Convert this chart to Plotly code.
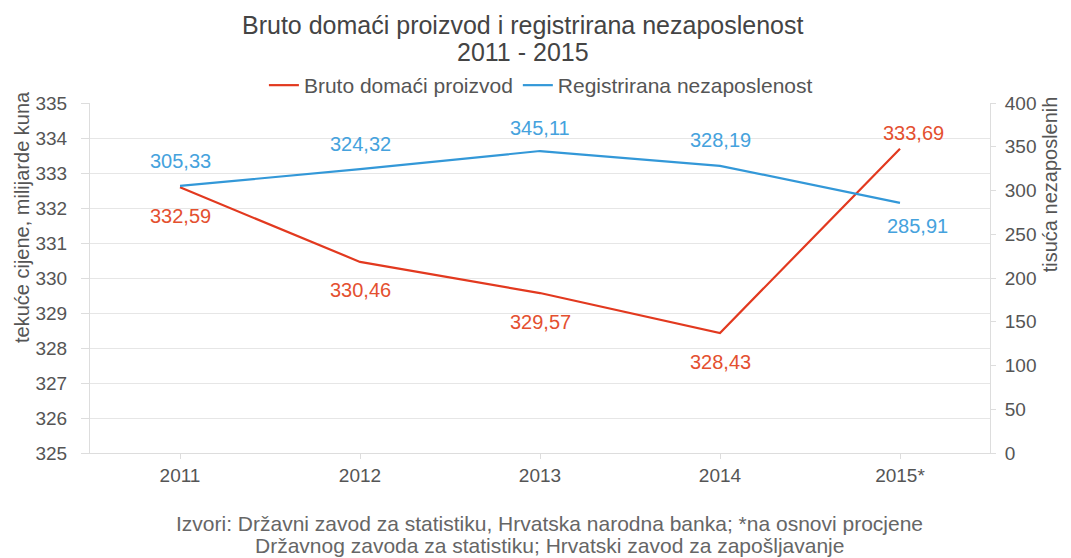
import plotly.graph_objects as go

years = ["2011", "2012", "2013", "2014", "2015*"]
gdp = [332.59, 330.46, 329.57, 328.43, 333.69]
unemp = [305.33, 324.32, 345.11, 328.19, 285.91]
gdp_labels = ["332,59", "330,46", "329,57", "328,43", "333,69"]
unemp_labels = ["305,33", "324,32", "345,11", "328,19", "285,91"]

RED = "#e2391f"
BLUE = "#3398d8"
RED_T = "#e4502f"
BLUE_T = "#45a2dd"
FONT = "Liberation Sans"
TXT = "#555555"

fig = go.Figure()
fig.add_trace(go.Scatter(x=years, y=gdp, mode="lines", name="Bruto domaći proizvod",
                         line=dict(color=RED, width=2.2), yaxis="y"))
fig.add_trace(go.Scatter(x=years, y=unemp, mode="lines", name="Registrirana nezaposlenost",
                         line=dict(color=BLUE, width=2.2), yaxis="y2"))

ann = []
gdp_shift = [(0, -29), (0, -28), (0, -29), (0, -29), (13, 16)]
unemp_shift = [(0, 25), (0, 25), (0, 23), (0, 26), (17, -23)]
for i, (v, t) in enumerate(zip(gdp, gdp_labels)):
    ann.append(dict(x=i, y=v, xref="x", yref="y", text=t, showarrow=False,
                    xshift=gdp_shift[i][0], yshift=gdp_shift[i][1],
                    font=dict(color=RED_T, size=20, family=FONT)))
for i, (v, t) in enumerate(zip(unemp, unemp_labels)):
    ann.append(dict(x=i, y=v, xref="x", yref="y2", text=t, showarrow=False,
                    xshift=unemp_shift[i][0], yshift=unemp_shift[i][1],
                    font=dict(color=BLUE_T, size=20, family=FONT)))

# title (two lines as separate texts for tight spacing)
ann.append(dict(x=0.481, y=1.223, xref="paper", yref="paper", yanchor="middle",
                text="Bruto domaći proizvod i registrirana nezaposlenost", showarrow=False,
                font=dict(color="#444", size=25, family=FONT)))
ann.append(dict(x=0.481, y=1.146, xref="paper", yref="paper", yanchor="middle",
                text="2011 - 2015", showarrow=False,
                font=dict(color="#444", size=25, family=FONT)))
# axis titles
ann.append(dict(x=-0.0755, y=1.04, xref="paper", yref="paper", xanchor="center", yanchor="top",
                text="tekuće cijene, milijarde kuna", textangle=-90, showarrow=False,
                font=dict(color=TXT, size=20, family=FONT)))
ann.append(dict(x=1.0667, y=1.025, xref="paper", yref="paper", xanchor="center", yanchor="top",
                text="tisuća nezaposlenih", textangle=-90, showarrow=False,
                font=dict(color=TXT, size=20, family=FONT)))
# source note
ann.append(dict(x=0.511, y=-0.2, xref="paper", yref="paper", yanchor="middle",
                text="Izvori: Državni zavod za statistiku, Hrvatska narodna banka; *na osnovi procjene",
                showarrow=False, font=dict(color="#666", size=21, family=FONT)))
ann.append(dict(x=0.511, y=-0.263, xref="paper", yref="paper", yanchor="middle",
                text="Državnog zavoda za statistiku; Hrvatski zavod za zapošljavanje",
                showarrow=False, font=dict(color="#666", size=21, family=FONT)))

fig.update_layout(
    width=1071, height=558,
    margin=dict(l=90, r=81, t=103, b=105, autoexpand=False),
    paper_bgcolor="white", plot_bgcolor="white",
    font=dict(family=FONT, color=TXT),
    legend=dict(orientation="h", x=0.501, xanchor="center", y=1.05, yanchor="middle",
                font=dict(size=21, color=TXT, family=FONT),
                bgcolor="rgba(0,0,0,0)", tracegroupgap=0),
    showlegend=True,
    xaxis=dict(type="category", showgrid=False, showline=True, linecolor="#dddddd",
               ticks="outside", ticklen=5, tickcolor="#dddddd",
               tickfont=dict(size=19, color=TXT), range=[-0.5, 4.5]),
    yaxis=dict(range=[325, 335], dtick=1, showgrid=True, gridcolor="#e6e6e6",
               showline=True, linecolor="#dddddd", ticks="outside", ticklen=8, tickcolor="#dddddd",
               tickfont=dict(size=19, color=TXT), zeroline=False, ticklabelstandoff=10),
    yaxis2=dict(range=[0, 400], dtick=50, overlaying="y", side="right", showgrid=False,
                showline=True, linecolor="#dddddd", ticks="outside", ticklen=5, tickcolor="#dddddd",
                tickfont=dict(size=19, color=TXT), zeroline=False, ticklabelstandoff=5),
    annotations=ann,
)

fig.write_html("out.html", config={"displayModeBar": False},
               post_script="document.body.style.margin='0';")
